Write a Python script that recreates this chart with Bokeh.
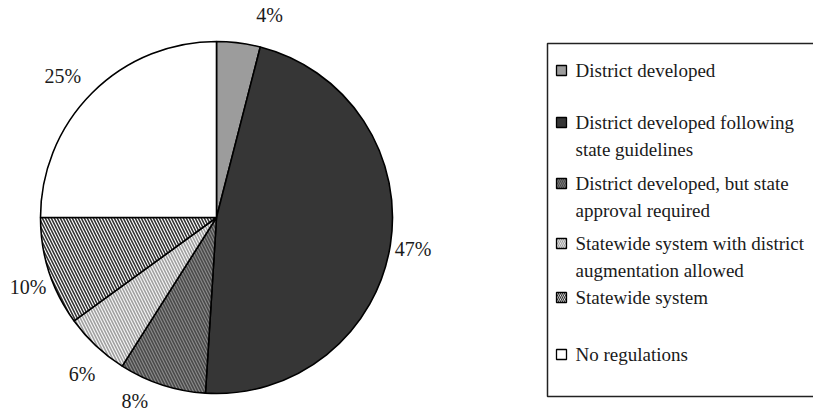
import math
import textwrap
from bokeh.plotting import figure
from bokeh.core.properties import value
from bokeh.embed import file_html
from bokeh.resources import INLINE

# ---- data ----
categories = [
    "District developed",
    "District developed following state guidelines",
    "District developed, but state approval required",
    "Statewide system with district augmentation allowed",
    "Statewide system",
    "No regulations",
]
shares = [4, 47, 8, 6, 10, 25]
pct_labels = ["4%", "47%", "8%", "6%", "10%", "25%"]

# ---- styles ----
fills = ["#9c9c9c", "#363636", "#8a8a8a", "#f6f6f6", "#ffffff", "#ffffff"]
hatches = ["", "", "\\", "\\", "\\", ""]
hatch_colors = ["#000000", "#000000", "#4a4a4a", "#a0a0a0", "#333333", "#000000"]
label_nudge_deg = [7.5, 0.0, 6.0, -2.5, -2.3, -2.3]
label_radius = [209, 199, 201, 206, 201, 209]
legend_rows_page_y = [70, 122, 183, 243, 297, 354]

W, H = 813, 412
FONT = "Liberation Serif"

p = figure(width=W, height=H, x_range=(0, W), y_range=(0, H),
           output_backend="svg", toolbar_location=None,
           x_axis_location=None, y_axis_location=None, min_border=0)
p.grid.visible = False
p.outline_line_color = None
p.background_fill_color = "white"
p.border_fill_color = "white"

cx, cy, R = 216, H - 217, 176
total = sum(shares)
starts, ends, mids = [], [], []
acc = 0.0
for s in shares:
    a0 = acc / total
    acc += s
    a1 = acc / total
    starts.append(math.pi / 2 - a0 * 2 * math.pi)
    ends.append(math.pi / 2 - a1 * 2 * math.pi)
    mids.append((a0 + a1) / 2 * 360)

for i in range(len(shares)):
    kw = {}
    if hatches[i]:
        kw = dict(hatch_pattern=hatches[i], hatch_color=hatch_colors[i],
                  hatch_scale=6, hatch_weight=1.6)
    p.wedge(x=cx, y=cy, radius=R, start_angle=starts[i], end_angle=ends[i],
            direction="clock", fill_color=fills[i], line_color="#000000",
            line_width=1.6, **kw)

# percentage labels
lx, ly = [], []
for i in range(len(shares)):
    ang = math.radians(mids[i] + label_nudge_deg[i])
    lx.append(cx + label_radius[i] * math.sin(ang))
    ly.append(cy + label_radius[i] * math.cos(ang))
p.text(x=lx, y=ly, text=pct_labels, text_font=value(FONT), text_font_size="20px",
       text_align="center", text_baseline="middle", text_color="#1a1a1a")

# legend box
p.quad(left=547, right=840, bottom=H - 396, top=H - 43, fill_color=None,
       line_color="#222222", line_width=1.5)

leg_x = 561
ys = [H - y for y in legend_rows_page_y]
for i in range(len(categories)):
    kw = {}
    if hatches[i]:
        kw = dict(hatch_pattern=hatches[i], hatch_color=hatch_colors[i],
                  hatch_scale=4, hatch_weight=1.2)
    p.rect(x=leg_x, y=ys[i], width=10, height=10, fill_color=fills[i],
           line_color="#000000", line_width=1.3, **kw)

wrapped = ["\n".join(textwrap.wrap(c, 30)) for c in categories]
p.text(x=[575] * len(wrapped), y=[y + 11 for y in ys], text=wrapped,
       text_font=value(FONT), text_font_size="19px", text_align="left",
       text_baseline="top", text_line_height=1.3, text_color="#1a1a1a")

open("out.html", "w").write(file_html(p, INLINE))
